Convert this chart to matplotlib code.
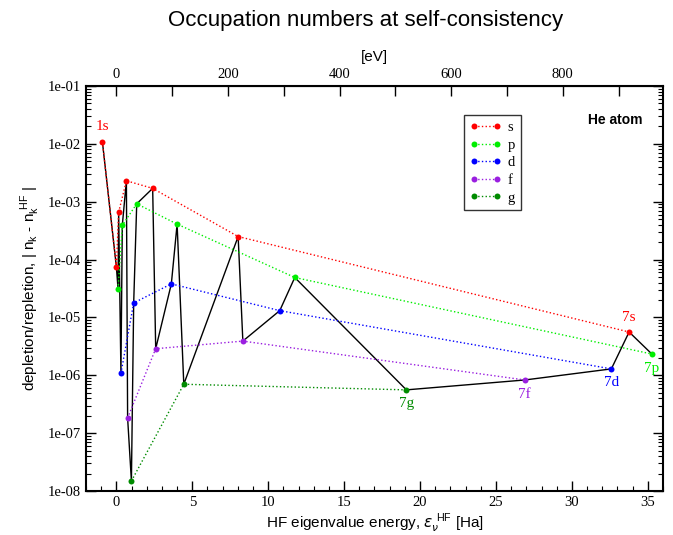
import numpy as np
import matplotlib
matplotlib.use('Agg')
import matplotlib.pyplot as plt
from matplotlib.ticker import MultipleLocator, LogLocator, NullFormatter

# HF eigenvalue energies [Ha] and |n_k - n_k^HF| for each symmetry
s_e = [-0.92, 0.00, 0.15, 0.66, 2.39, 8.02, 33.77]
s_n = [1.08e-2, 7.5e-5, 6.6e-4, 2.3e-3, 1.7e-3, 2.5e-4, 5.6e-6]
p_e = [0.11, 0.39, 1.34, 4.00, 11.75, 35.27]
p_n = [3.1e-5, 3.9e-4, 9.2e-4, 4.1e-4, 4.9e-5, 2.33e-6]
d_e = [0.30, 1.14, 3.62, 10.76, 32.60]
d_n = [1.08e-6, 1.78e-5, 3.8e-5, 1.31e-5, 1.29e-6]
f_e = [0.74, 2.59, 8.33, 26.90]
f_n = [1.83e-7, 2.88e-6, 3.9e-6, 8.3e-7]
g_e = [0.99, 4.44, 19.10]
g_n = [1.49e-8, 7.0e-7, 5.6e-7]

series = [('s', s_e, s_n, '#ff0000'),
          ('p', p_e, p_n, '#00ee00'),
          ('d', d_e, d_n, '#0000ff'),
          ('f', f_e, f_n, '#9a1fe0'),
          ('g', g_e, g_n, '#008b00')]

HA2EV = 27.2114

fig = plt.figure(figsize=(6.73, 5.35), dpi=100)
ax = fig.add_axes([0.1278, 0.0822, 0.8573, 0.7571])

# black line through all orbitals sorted by energy
all_e = np.concatenate([s_e, p_e, d_e, f_e, g_e])
all_n = np.concatenate([s_n, p_n, d_n, f_n, g_n])
order = np.argsort(all_e)
ax.plot(all_e[order], all_n[order], color='black', lw=1.0, zorder=2)

for name, e, n, c in series:
    ax.plot(e, n, ls=':', color=c, lw=1.0, marker='o', ms=4.3,
            markeredgewidth=0, label=name, zorder=3)

ax.set_yscale('log')
ax.set_xlim(-2, 36)
ax.set_ylim(1e-8, 1e-1)

serif = 'Liberation Serif'
sans = 'Liberation Sans'

ax.yaxis.set_minor_locator(LogLocator(base=10, subs=np.arange(2, 10), numticks=20))
ax.yaxis.set_minor_formatter(NullFormatter())
yt = [10.0 ** k for k in range(-8, 0)]
ax.set_yticks(yt)
ax.set_yticklabels(['1e-%02d' % (-k) for k in range(-8, 0)], fontfamily=serif, fontsize=10.5)
ax.xaxis.set_minor_locator(MultipleLocator(1))
ax.set_xticks(range(0, 40, 5))
ax.set_xticklabels([str(v) for v in range(0, 40, 5)], fontfamily=serif, fontsize=10.5)

ax.tick_params(which='both', direction='in', top=False, right=True)
ax.tick_params(which='major', length=7, width=1)
ax.tick_params(which='minor', length=3.5, width=0.8)
for sp in ax.spines.values():
    sp.set_linewidth(1.5)

ax2 = ax.secondary_xaxis('top', functions=(lambda x: x * HA2EV, lambda x: x / HA2EV))
ax2.xaxis.set_minor_locator(MultipleLocator(100))
ax2.tick_params(which='both', direction='in', length=7, width=1)
ax2.set_xticks(range(0, 1000, 200))
ax2.set_xticklabels([str(v) for v in range(0, 1000, 200)], fontfamily=serif, fontsize=10.5)
ax2.set_xlabel('[eV]', fontfamily=sans, fontsize=11, labelpad=5)

ax.set_xlabel(r'HF eigenvalue energy, $\varepsilon_\nu^{\ \mathregular{HF}}$ [Ha]',
              fontfamily=sans, fontsize=11, labelpad=2)
ax.set_ylabel(r'depletion/repletion, | n$_\mathregular{k}$ - n$_\mathregular{k}^{\ \mathregular{HF}}$ |',
              fontfamily=sans, fontsize=11, labelpad=4)
fig.text(0.543, 0.962, 'Occupation numbers at self-consistency', fontfamily=sans,
         fontsize=16, ha='center', va='center')

# orbital labels
ax.text(s_e[0], s_n[0] * 1.45, '1s', color='#ff0000', fontfamily=serif,
        fontsize=11, ha='center', va='bottom')
ax.text(s_e[-1], s_n[-1] * 1.35, '7s', color='#ff0000', fontfamily=serif,
        fontsize=11, ha='center', va='bottom')
ax.text(p_e[-1], p_n[-1] / 1.35, '7p', color='#00ee00', fontfamily=serif,
        fontsize=11, ha='center', va='top')
ax.text(d_e[-1], d_n[-1] / 1.35, '7d', color='#0000ff', fontfamily=serif,
        fontsize=11, ha='center', va='top')
ax.text(f_e[-1], f_n[-1] / 1.35, '7f', color='#9a1fe0', fontfamily=serif,
        fontsize=11, ha='center', va='top')
ax.text(g_e[-1], g_n[-1] / 1.35, '7g', color='#008b00', fontfamily=serif,
        fontsize=11, ha='center', va='top')

ax.text(0.965, 0.915, 'He atom', transform=ax.transAxes, fontfamily=sans,
        fontweight='bold', fontsize=10, ha='right', va='center')

leg = ax.legend(loc='upper left', bbox_to_anchor=(0.655, 0.928), frameon=True,
                fancybox=False, edgecolor='black', prop={'family': serif, 'size': 10.5},
                handlelength=2.2, handletextpad=0.4, labelspacing=0.3,
                borderpad=0.4, numpoints=2, borderaxespad=0)
leg.get_frame().set_linewidth(1.0)

fig.savefig('out.png', dpi=100)
